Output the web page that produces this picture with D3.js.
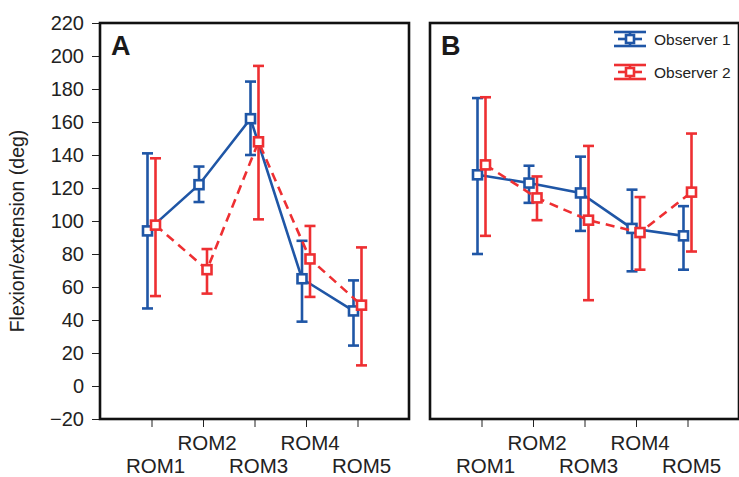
<!DOCTYPE html>
<html>
<head>
<meta charset="utf-8">
<script src="https://cdn.jsdelivr.net/npm/d3@7"></script>
<style>
  html, body { margin: 0; padding: 0; background: #fff; }
  svg { display: block; font-family: "Liberation Sans", Arial, sans-serif; }
</style>
</head>
<body>
<svg id="chart" width="739" height="477"></svg>
<script>
// ---- data ----
const categories = ["ROM1", "ROM2", "ROM3", "ROM4", "ROM5"];
const yTicks = [-20, 0, 20, 40, 60, 80, 100, 120, 140, 160, 180, 200, 220];
const seriesNames = ["Observer 1", "Observer 2"];

// Panel A
const obs1A_mean  = [94, 122, 162, 65, 45.5];
const obs1A_upper = [141, 133, 184.5, 88, 64];
const obs1A_lower = [47, 111.5, 140, 39, 24.5];
const obs2A_mean  = [97.5, 70.5, 148, 77, 49];
const obs2A_upper = [138, 83, 194, 97, 84];
const obs2A_lower = [54.5, 56, 101, 54, 12.5];

// Panel B
const obs1B_mean  = [128, 123, 117, 95.5, 91];
const obs1B_upper = [174.5, 133.5, 139, 119, 109];
const obs1B_lower = [80, 111, 94, 69.5, 70.5];
const obs2B_mean  = [134, 114, 100.5, 93, 117.5];
const obs2B_upper = [175, 127, 145.5, 114.5, 153];
const obs2B_lower = [91, 100.5, 52, 70.5, 81.5];

// ---- style ----
const BLUE = "#1f56a6";
const RED = "#ee2f32";
const LW = 2.6;

const svg = d3.select("#chart");

const y = d3.scaleLinear().domain([-20, 220]).range([419, 23]);

function toRows(mean, lo, hi) {
  return categories.map((c, i) => ({ cat: c, idx: i + 1, mean: mean[i], lo: lo[i], hi: hi[i] }));
}

const panels = [
  { letter: "A", left: 100, right: 409, yAxis: true, legend: false,
    series: [
      { name: seriesNames[0], color: BLUE, dash: null, dx: -4, rows: toRows(obs1A_mean, obs1A_lower, obs1A_upper) },
      { name: seriesNames[1], color: RED, dash: "9,6", dx: 4, rows: toRows(obs2A_mean, obs2A_lower, obs2A_upper) }
    ] },
  { letter: "B", left: 430, right: 739, yAxis: false, legend: true,
    series: [
      { name: seriesNames[0], color: BLUE, dash: null, dx: -4, rows: toRows(obs1B_mean, obs1B_lower, obs1B_upper) },
      { name: seriesNames[1], color: RED, dash: "9,6", dx: 4, rows: toRows(obs2B_mean, obs2B_lower, obs2B_upper) }
    ] }
];

panels.forEach(p => {
  const x = d3.scaleLinear().domain([0, 6]).range([p.left, p.right]);
  const g = svg.append("g");

  // y axis
  if (p.yAxis) {
    const ya = g.append("g")
      .attr("transform", `translate(${p.left},0)`)
      .call(d3.axisLeft(y).tickValues(yTicks).tickSize(8).tickPadding(8)
        .tickFormat(d => d < 0 ? "\u2212" + Math.abs(d) : d));
    ya.select(".domain").remove();
    ya.selectAll(".tick line").attr("stroke", "#222").attr("stroke-width", 1);
    ya.selectAll(".tick text").attr("font-size", 20).attr("fill", "#222")
      .attr("font-family", "'Liberation Sans', Arial, sans-serif");
  }

  // x axis
  const xa = g.append("g")
    .attr("transform", `translate(0,${y(-20)})`)
    .call(d3.axisBottom(x).tickValues(d3.range(1, 6)).tickSize(8).tickFormat(""));
  xa.select(".domain").remove();
  xa.selectAll(".tick line").attr("stroke", "#222").attr("stroke-width", 1);

  g.selectAll(".xlab").data(categories).join("text")
    .attr("class", "xlab")
    .attr("x", (d, i) => x(i + 1) + 4)
    .attr("y", (d, i) => i % 2 === 1 ? 450 : 473)
    .attr("text-anchor", "middle")
    .attr("font-size", 20.5)
    .attr("fill", "#222")
    .text(d => d);

  // frame
  g.append("rect")
    .attr("x", p.left).attr("y", y(220))
    .attr("width", p.right - p.left).attr("height", y(-20) - y(220))
    .attr("fill", "none").attr("stroke", "#111").attr("stroke-width", 2.6);

  // panel letter
  g.append("text")
    .attr("x", p.left + 11).attr("y", 55)
    .attr("font-size", 27).attr("font-weight", "bold").attr("fill", "#1a1a1a")
    .text(p.letter);

  // series
  p.series.forEach(s => {
    const sg = g.append("g");
    const line = d3.line().x(d => x(d.idx) + s.dx).y(d => y(d.mean));
    sg.append("path").datum(s.rows)
      .attr("d", line).attr("fill", "none")
      .attr("stroke", s.color).attr("stroke-width", LW)
      .attr("stroke-dasharray", s.dash);
    // error bars
    sg.selectAll(".eb").data(s.rows).join("line")
      .attr("x1", d => x(d.idx) + s.dx).attr("x2", d => x(d.idx) + s.dx)
      .attr("y1", d => y(d.lo)).attr("y2", d => y(d.hi))
      .attr("stroke", s.color).attr("stroke-width", LW);
    ["lo", "hi"].forEach(k => {
      sg.selectAll(".cap-" + k).data(s.rows).join("line")
        .attr("x1", d => x(d.idx) + s.dx - 5.5).attr("x2", d => x(d.idx) + s.dx + 5.5)
        .attr("y1", d => y(d[k])).attr("y2", d => y(d[k]))
        .attr("stroke", s.color).attr("stroke-width", LW);
    });
    sg.selectAll(".pt").data(s.rows).join("rect")
      .attr("x", d => x(d.idx) + s.dx - 4.5).attr("y", d => y(d.mean) - 4.5)
      .attr("width", 9).attr("height", 9)
      .attr("fill", "#fff").attr("stroke", s.color).attr("stroke-width", LW);
  });

  // legend
  if (p.legend) {
    const items = p.series.map((s, i) => ({ name: s.name, color: s.color, cy: 39 + i * 33 }));
    const lg = g.append("g");
    items.forEach(it => {
      const x0 = 614, x1 = 646, cx = (x0 + x1) / 2;
      lg.append("line").attr("x1", x0).attr("x2", x1).attr("y1", it.cy - 7).attr("y2", it.cy - 7)
        .attr("stroke", it.color).attr("stroke-width", LW);
      lg.append("line").attr("x1", x0).attr("x2", x1).attr("y1", it.cy + 7).attr("y2", it.cy + 7)
        .attr("stroke", it.color).attr("stroke-width", LW);
      lg.append("line").attr("x1", x0 + 4).attr("x2", x1 - 4).attr("y1", it.cy).attr("y2", it.cy)
        .attr("stroke", it.color).attr("stroke-width", LW);
      lg.append("line").attr("x1", cx).attr("x2", cx).attr("y1", it.cy - 7).attr("y2", it.cy + 7)
        .attr("stroke", it.color).attr("stroke-width", LW);
      lg.append("rect").attr("x", cx - 4).attr("y", it.cy - 4).attr("width", 8).attr("height", 8)
        .attr("fill", "#fff").attr("stroke", it.color).attr("stroke-width", LW);
      lg.append("text").attr("x", 654).attr("y", it.cy + 6)
        .attr("font-size", 15.5).attr("fill", "#222").text(it.name);
    });
  }
});

// y axis title
svg.append("text")
  .attr("transform", "translate(24,231) rotate(-90)")
  .attr("text-anchor", "middle")
  .attr("font-size", 19.5)
  .attr("fill", "#222")
  .text("Flexion/extension (deg)");
</script>
</body>
</html>
